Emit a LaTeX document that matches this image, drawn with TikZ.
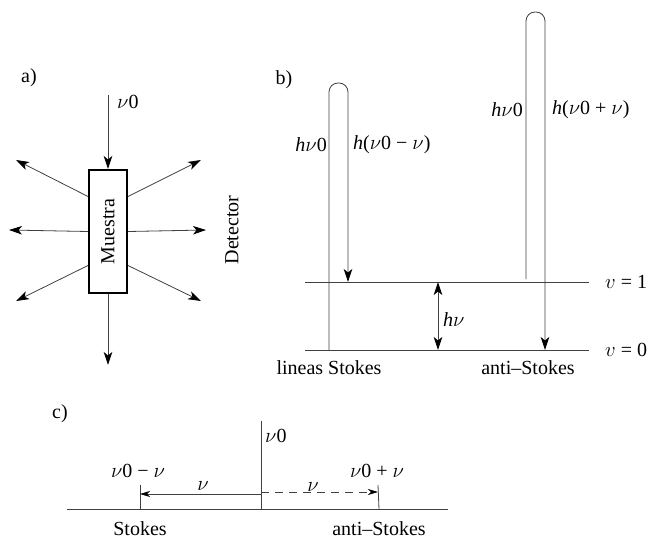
\documentclass[tikz,border=0pt]{standalone}
\usepackage{fontspec}
\setmainfont{Liberation Serif}
\usetikzlibrary{arrows.meta}
\newcommand{\nv}{$\nu$}
\begin{document}
\begin{tikzpicture}[x=1pt,y=-1pt,font=\fontsize{20}{24}\selectfont,
  ln/.style={draw=black!75,line width=0.8pt},
  tip/.tip={Stealth[length=13pt,width=8.5pt,inset=3.5pt,color=black]},
  smalltip/.tip={Stealth[length=10pt,width=6pt,inset=3pt,color=black]},
  arr/.style={ln,-tip},
  lbl/.style={inner sep=0pt}]
\useasboundingbox (0,0) rectangle (648,540);
% ---------- a)
\node[lbl] (la) at (29,78) {a)};
\node[draw,line width=2pt,minimum width=38pt,minimum height=123pt,inner sep=0pt] (box) at (108,231.5) {};
\node[lbl,rotate=90] (mu) at (box.center) {Muestra};
\coordinate (src) at (108,95);
\draw[arr] (src) -- (box.north);
\node[lbl,anchor=west] (nua) at (117,102) {\nv0};
\coordinate (e1) at (16,160);
\coordinate (e2) at (9,230);
\coordinate (e3) at (16,301);
\coordinate (e4) at (201,160);
\coordinate (e5) at (206,230);
\coordinate (e6) at (201,301);
\coordinate (e7) at (108,365);
\draw[arr] ([yshift=35pt]box.west) -- (e1);
\draw[arr] (box.west) -- (e2);
\draw[arr] ([yshift=-34pt]box.west) -- (e3);
\draw[arr] ([yshift=35pt]box.east) -- (e4);
\draw[arr] (box.east) -- (e5);
\draw[arr] ([yshift=-34pt]box.east) -- (e6);
\draw[arr] (box.south) -- (e7);
\node[lbl,rotate=90] (det) at (232,230) {Detector};
% ---------- b)
\node[lbl] (lb) at (284,80) {b)};
\coordinate (l1a) at (305,282);
\coordinate (l1b) at (589,282);
\coordinate (l0a) at (305,350);
\coordinate (l0b) at (589,350);
\draw[ln] (l1a) -- (l1b);
\draw[ln] (l0a) -- (l0b);
\node[lbl,anchor=west] (v1) at (605,282) {$v$ = 1};
\node[lbl,anchor=west] (v0) at (605,350) {$v$ = 0};
\coordinate (s1) at (329,350);
\coordinate (s2) at (348,282);
\draw[arr,rounded corners=9pt] (s1) -- (329,83) -- (348,83) -- (s2);
\coordinate (a1) at (526,279);
\coordinate (a2) at (545,350);
\draw[arr,rounded corners=9pt] (a1) -- (526,12) -- (545,12) -- (a2);
\coordinate (h1) at (438,282);
\coordinate (h0) at (438,350);
\draw[ln,tip-tip] (h1) -- (h0);
\node[lbl,anchor=west] (hnu) at (443,320) {\textit{h}\nv};
\node[lbl,anchor=east] (hl1) at (327,145) {\textit{h}\nv0};
\node[lbl,anchor=west] (hl2) at (353,145) {\textit{h}(\nv0 − \nv)};
\node[lbl,anchor=east] (hr1) at (523,110) {\textit{h}\nv0};
\node[lbl,anchor=west] (hr2) at (552,110) {\textit{h}(\nv0 + \nv)};
\node[lbl] (ls) at (329,368) {lineas Stokes};
\node[lbl] (las) at (528,368) {anti–Stokes};
% ---------- c)
\node[lbl] (lc) at (60,414) {c)};
\coordinate (b1) at (67,509);
\coordinate (b2) at (448,509);
\draw[ln] (b1) -- (b2);
\coordinate (ct) at (261,421);
\coordinate (cb) at (261,509);
\draw[ln] (ct) -- (cb);
\node[lbl,anchor=west] (cnu) at (265,436) {\nv0};
\coordinate (t1) at (140,485);
\coordinate (t1b) at (140,509);
\coordinate (t2) at (378,485);
\coordinate (t2b) at (379,509);
\draw[ln] (t1) -- (t1b);
\draw[ln] (t2) -- (t2b);
\coordinate (ca) at (261,494);
\coordinate (cs) at (140,494);
\draw[ln,-smalltip] (ca) -- (cs);
\coordinate (cd) at (261,492);
\coordinate (cas) at (378,492);
\draw[ln,dash pattern=on 8pt off 6pt,-smalltip] (cd) -- (cas);
\node[lbl] (n1) at (203,486) {\nv};
\node[lbl] (n2) at (313,487) {\nv};
\node[lbl] (sm) at (138,471) {\nv0 − \nv};
\node[lbl] (sp) at (377,471) {\nv0 + \nv};
\node[lbl] (st) at (140,529) {Stokes};
\node[lbl] (ast) at (379,529) {anti–Stokes};
\end{tikzpicture}
\end{document}
